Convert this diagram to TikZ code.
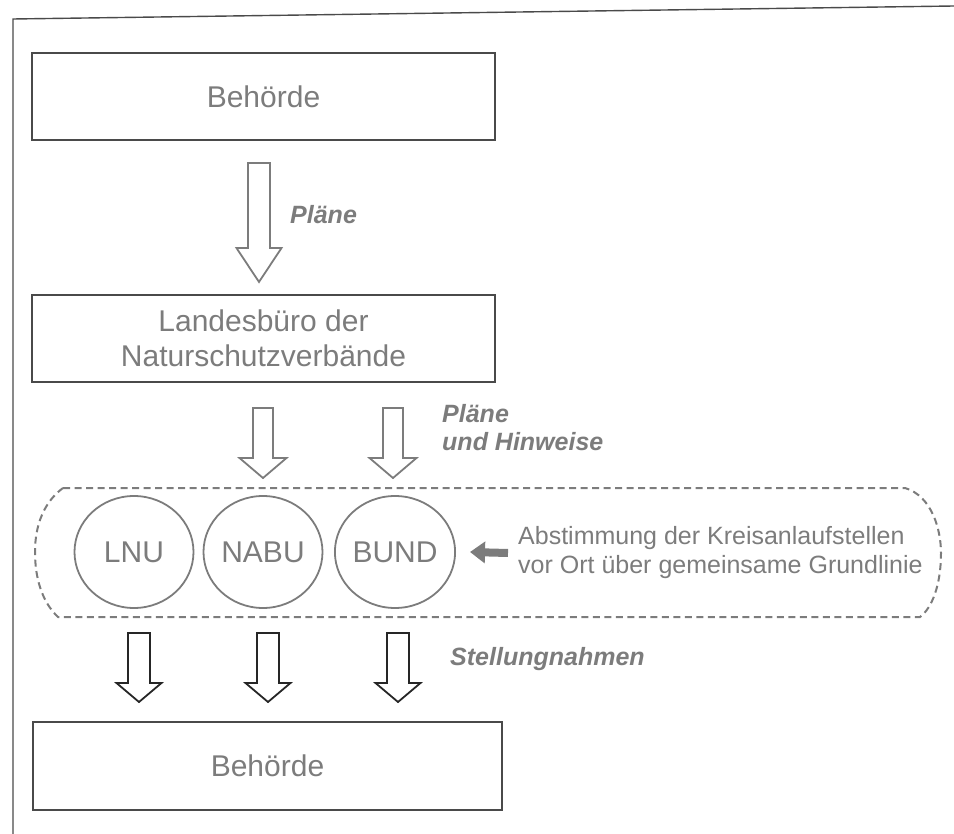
\documentclass[tikz,border=0pt]{standalone}
\usepackage{fontspec}
\setmainfont{Liberation Sans}
\usetikzlibrary{shapes.geometric,arrows.meta}
\definecolor{txtgray}{HTML}{7C7C7C}
\definecolor{framegray}{HTML}{4A4A4A}
% hollow block arrow: style, x centre, top, head base, tip, shaft half width, head half width
\newcommand{\hollowarrow}[7]{%
  \draw[#1] (#2-#6,#3) -- (#2+#6,#3) -- (#2+#6,#4) -- (#2+#7,#4) -- (#2,#5)
    -- (#2-#7,#4) -- (#2-#6,#4) -- cycle;}
\begin{document}
\begin{tikzpicture}[x=1pt,y=-1pt,
    box/.style={draw=framegray,line width=1.7pt,minimum width=463pt,minimum height=87pt,
      inner sep=0pt,text=txtgray,align=center,font=\fontsize{30}{35}\selectfont},
    verband/.style={ellipse,draw=txtgray,line width=1.8pt,minimum width=119pt,
      minimum height=112pt,inner sep=0pt,text=txtgray,font=\fontsize{30}{32}\selectfont},
    lbl/.style={anchor=west,inner sep=0pt,text=txtgray,align=left,
      font=\fontsize{25}{28}\selectfont\bfseries\itshape},
    grayarrow/.style={draw=txtgray,line width=1.8pt,line join=miter},
    blackarrow/.style={draw=black!85,line width=1.8pt,line join=miter}]
  \useasboundingbox (0,0) rectangle (954,834);
  % frame of the scan
  \draw[framegray,line width=1.4pt] (13,834) -- (13,19) -- (954,6);

  \node[box] (behoerde1) at (263.5,96.5) {Beh\"orde};
  \node[box] (landesbuero) at (263.5,338.5) {Landesb\"uro der\\Naturschutzverb\"ande};
  \node[box,minimum width=469pt,minimum height=88pt] (behoerde2) at (267.5,766) {Beh\"orde};

  \hollowarrow{grayarrow}{259}{163}{248}{282}{11}{22.5}
  \node[lbl] (plaene) at (290,215) {Pl\"ane};

  \hollowarrow{grayarrow}{263}{408}{458}{478}{10}{23.5}
  \hollowarrow{grayarrow}{393}{408}{458}{478}{10}{23.5}
  \node[lbl] (hinweise) at (442,428) {Pl\"ane\\und Hinweise};

  % Kreisanlaufstellen
  \draw[txtgray,line width=2pt,dash pattern=on 7pt off 4.5pt]
    (63,488) -- (905,488) .. controls (932,496) and (941,530) .. (941,553)
    .. controls (941,585) and (932,608) .. (920,617) -- (58,617)
    .. controls (42,602) and (35,578) .. (35,552)
    .. controls (35,525) and (44,502) .. (63,488) -- cycle;
  \node[verband] (lnu) at (134,552) {LNU};
  \node[verband] (nabu) at (263,552) {NABU};
  \node[verband] (bund) at (395,552) {BUND};
  \node[anchor=west,inner sep=0pt,text=txtgray,align=left,
    font=\fontsize{25}{29}\selectfont] (abstimmung) at (518,553)
    {Abstimmung der Kreisanlaufstellen\\vor Ort \"uber gemeinsame Grundlinie};
  \draw[txtgray,line width=8pt,-{Triangle[length=15pt,width=21pt]}]
    ([xshift=-10pt]abstimmung.west) -- ([xshift=14pt]bund.east);

  \hollowarrow{blackarrow}{139}{633}{683}{702}{11}{22.5}
  \hollowarrow{blackarrow}{268}{633}{683}{702}{11}{22.5}
  \hollowarrow{blackarrow}{398}{633}{683}{702}{11}{22.5}
  \node[lbl] (stellung) at (450,659) {Stellungnahmen};
\end{tikzpicture}
\end{document}
